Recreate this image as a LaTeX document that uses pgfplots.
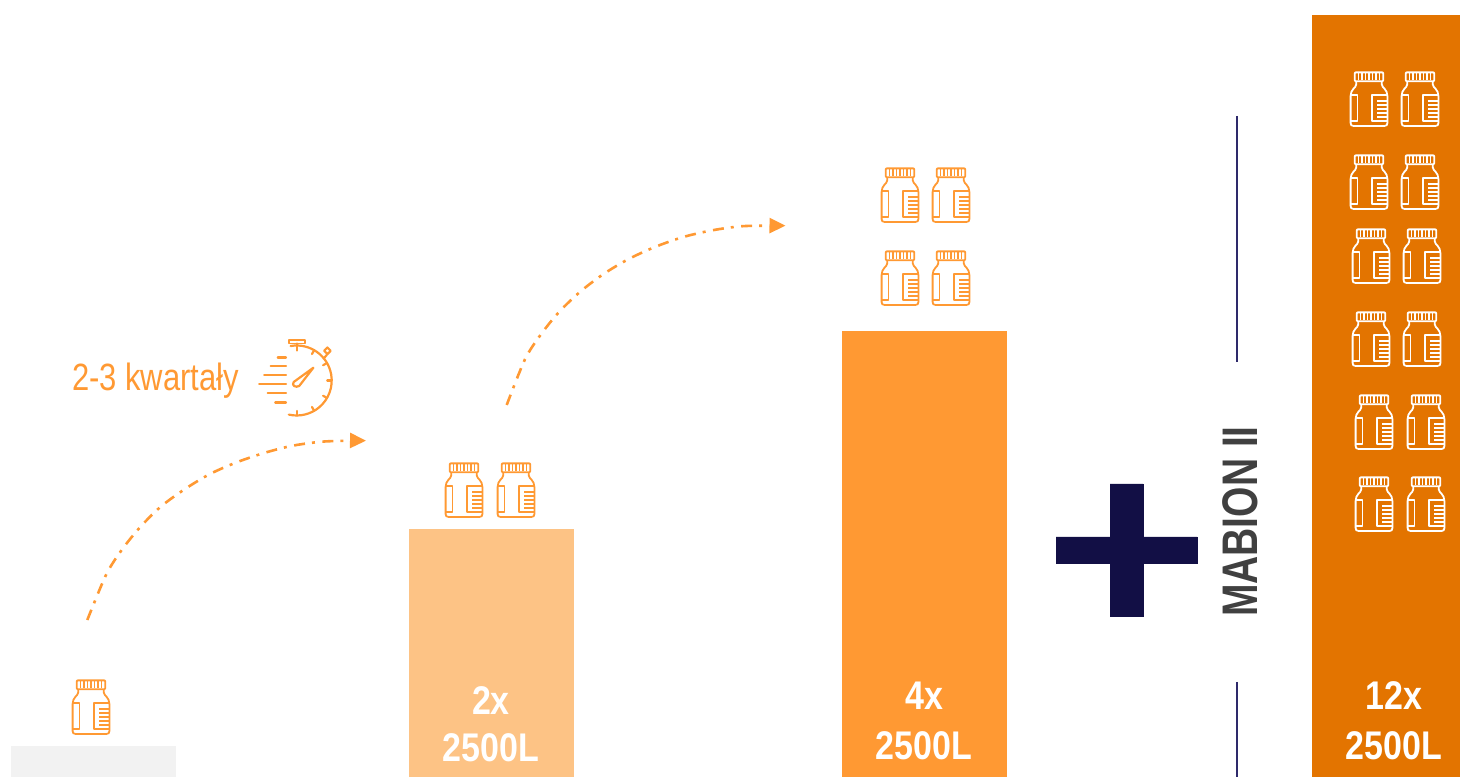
\documentclass[border=0pt]{standalone}
\usepackage{pgfplots}
\pgfplotsset{compat=1.18}
\usepackage{fontspec}
\usetikzlibrary{arrows.meta}
\setmainfont{Liberation Sans}
\newfontfamily\barfont[FakeStretch=0.85]{Liberation Sans}
\newfontfamily\sidefont[FakeStretch=0.78]{Liberation Sans}
\newfontfamily\notefont[FakeStretch=0.815]{Liberation Sans}

\definecolor{barone}{HTML}{F2F2F2}
\definecolor{bartwo}{HTML}{FDC385}
\definecolor{barfour}{HTML}{FF9933}
\definecolor{bartwelve}{HTML}{E37400}
\definecolor{navy}{HTML}{120F45}
\definecolor{rule}{HTML}{2E2A6B}
\definecolor{mabion}{HTML}{404040}

% Jar icon, centred on the plotted point
\newcommand\declarejar[2]{%
  \pgfdeclareplotmark{#1}{%
    \begin{scope}[draw=#2,line width=1.8pt,line join=round,fill=none]
      \draw[rounded corners=0.8pt] (-14.2,17.8) rectangle (14.2,26.6);
      \foreach \x in {-10.5,-7,-3.5,0,3.5,7,10.5} {\draw[line width=1.1pt] (\x,18.5) -- (\x,26);}
      \draw (-12.8,17.8) -- (-12.8,14.5) .. controls (-13,11) and (-18.4,10) .. (-18.4,3)
        -- (-18.4,-24) .. controls (-18.4,-26) and (-17.4,-27) .. (-15.4,-27)
        -- (15.4,-27) .. controls (17.4,-27) and (18.4,-26) .. (18.4,-24)
        -- (18.4,3) .. controls (18.4,10) and (13,11) .. (12.8,14.5) -- (12.8,17.8);
      \draw (-18.4,4) -- (-11.5,4) -- (-11.5,-22) -- (-18.4,-22);
      \draw (18.4,4) -- (3.3,4) -- (3.3,-22) -- (18.4,-22);
      \foreach \y in {-2,-6,-10,-14,-18} {\draw[line width=1.2pt] (8.3,\y) -- (18.4,\y);}
    \end{scope}}}
\declarejar{jarorange}{barfour}
\declarejar{jarwhite}{white}

% Stopwatch with speed lines
\pgfdeclareplotmark{stopwatch}{%
  \begin{scope}[draw=barfour,line width=2.2pt,line cap=round,line join=round,fill=none]
    \draw (100:35) arc[start angle=100,end angle=-103,radius=35];
    \foreach \a in {60,30,0,-30,-60,-90} {\draw (\a:35) -- (\a:30.5);}
    \draw (30,25.5) -- (27,22);
    \draw (30.7,33) -- (34,29.6) -- (30.7,26.4) -- (27.5,29.8) -- cycle;
    \draw[line width=1.8pt] (-8,40.5) -- (8,40.5) -- (8,37) -- (-8,37) -- cycle;
    \draw (0,37) -- (0,30);
    \draw (16.7,12.8) -- (-3,-1.5) .. controls (-5.5,-5) and (-1,-7.5) .. (2.5,-5.5) -- cycle;
    \draw (-19,23) -- (-10.7,23);
    \draw (-26,14.5) -- (-10.7,14.5);
    \draw (-32.5,5.5) -- (-10.7,5.5);
    \draw (-37.5,-3.5) -- (-10.7,-3.5);
    \draw (-29,-12.8) -- (-10.7,-12.8);
    \draw (-21.5,-22) -- (-10.7,-22);
  \end{scope}}

\begin{document}
\begin{tikzpicture}
\useasboundingbox (0,0) rectangle (1460pt,777pt);
\begin{axis}[
  at={(0,0)}, anchor=south west,
  scale only axis, width=1460pt, height=777pt,
  xmin=0, xmax=1460, ymin=0, ymax=777,
  hide axis,
  every axis plot/.append style={forget plot},
]
  % Capacity bars
  \addplot[ybar, bar width=165pt, bar shift=0pt, fill=barone, draw=none] coordinates {(93.5,31)};
  \addplot[ybar, bar width=165pt, bar shift=0pt, fill=bartwo, draw=none] coordinates {(491.5,248)};
  \addplot[ybar, bar width=165pt, bar shift=0pt, fill=barfour, draw=none] coordinates {(924.5,446)};
  \addplot[ybar, bar width=148pt, bar shift=0pt, fill=bartwelve, draw=none] coordinates {(1386,762)};

  % Jars above and inside the bars
  \addplot[only marks, mark=jarorange] coordinates {
    (91,70) (464,287) (516,287)
    (900,582) (951,582) (900,499) (951,499)};
  \addplot[only marks, mark=jarwhite] coordinates {
    (1369,678) (1420,678) (1369,595) (1420,595)
    (1371,521) (1422,521) (1371,438) (1422,438)
    (1374,355) (1426,355) (1374,273) (1426,273)};
  \addplot[only marks, mark=stopwatch] coordinates {(296.7,396.5)};

  % Growth arrows
  \addplot[smooth, tension=0.5, barfour, line width=2.6pt, dash pattern=on 11pt off 7pt on 3pt off 7.5pt,
    -{Triangle[length=16pt,width=15pt]}] coordinates {
    (87.3,157) (106,202) (121.7,227) (140,249.7) (160.7,270.3) (185,288) (210,303)
    (236.7,314.7) (265,324.3) (292.7,331.3) (321.7,335.3) (350,336.3) (366,336.3)};
  \addplot[smooth, tension=0.5, barfour, line width=2.6pt, dash pattern=on 11pt off 7pt on 3pt off 7.5pt,
    -{Triangle[length=16pt,width=15pt]}] coordinates {
    (506.7,372) (525,417.7) (541,442.7) (559.3,465.3) (580.7,485.7) (604,503.3) (629.3,518.3)
    (655.7,530.3) (683.3,540) (712.3,546.7) (741,550.7) (769,551.3) (785.5,551.3)};

  % Plus sign
  \addplot[fill=navy, draw=navy] coordinates {
    (1056,240) (1110,240) (1110,293) (1143,293) (1143,240) (1197,240)
    (1197,214) (1143,214) (1143,161) (1110,161) (1110,214) (1056,214)} -- cycle;

  % Rules above and below the MABION II label
  \addplot[rule, line width=1.4pt] coordinates {(1236.8,661) (1236.8,415)};
  \addplot[rule, line width=1.4pt] coordinates {(1236.8,95) (1236.8,0)};

  % Texts
  \node[anchor=base, text=white, font=\barfont\bfseries\fontsize{40}{40}\selectfont] at (axis cs:491,63) {2x};
  \node[anchor=base, text=white, font=\barfont\bfseries\fontsize{40}{40}\selectfont] at (axis cs:491,16) {2500L};
  \node[anchor=base, text=white, font=\barfont\bfseries\fontsize{40}{40}\selectfont] at (axis cs:924,67) {4x};
  \node[anchor=base, text=white, font=\barfont\bfseries\fontsize{40}{40}\selectfont] at (axis cs:924,17) {2500L};
  \node[anchor=base, text=white, font=\barfont\bfseries\fontsize{40}{40}\selectfont] at (axis cs:1394,67) {12x};
  \node[anchor=base, text=white, font=\barfont\bfseries\fontsize{40}{40}\selectfont] at (axis cs:1394,17) {2500L};
  \node[rotate=90, text=mabion, font=\sidefont\bfseries\fontsize{50}{50}\selectfont] at (axis cs:1240,255.5) {MABION II};
  \node[anchor=base, text=barfour, font=\notefont\fontsize{38}{38}\selectfont] at (axis cs:155.5,386) {2-3 kwartały};
\end{axis}
\end{tikzpicture}
\end{document}
